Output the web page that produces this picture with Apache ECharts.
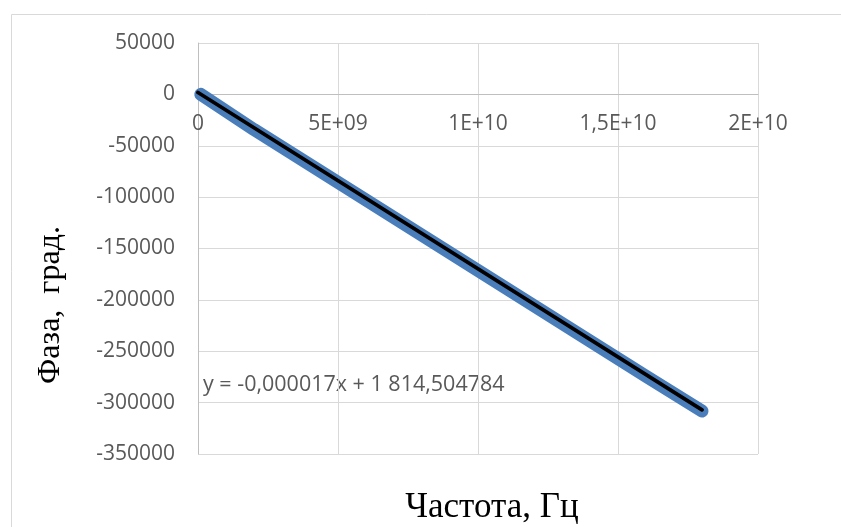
<!DOCTYPE html>
<html>
<head>
<meta charset="utf-8">
<script src="https://cdn.jsdelivr.net/npm/echarts@6/dist/echarts.min.js"></script>
<style>html,body{margin:0;padding:0;background:#fff}#c{width:841px;height:527px}</style>
</head>
<body>
<div id="c"></div>
<script>
// Data
const freq = [1e8, 2e9, 4e9, 6e9, 8e9, 1e10, 1.2e10, 1.4e10, 1.6e10, 1.8e10];
const phase = [0, -34300, -68600, -102900, -137200, -171500, -205800, -240100, -274400, -308200];
const trendX = [0, 1.8e10];
const trendY = [1814.5, -307000];
const xTickLabels = ['0', '5E+09', '1E+10', '1,5E+10', '2E+10'];
const trendText = 'y = -0,000017x + 1 814,504784';
const xTitle = 'Частота, Гц';
const yTitle = 'Фаза,  град.';

const chart = echarts.init(document.getElementById('c'));
const labelColor = '#595959';
const font = 'Open Sans';
chart.setOption({
  animation: false,
  grid: { left: 198, top: 43, width: 560, height: 411, containLabel: false },
  xAxis: {
    type: 'value', min: 0, max: 2e10, interval: 5e9,
    position: 'bottom', offset: -360,
    axisLine: { onZero: false, lineStyle: { color: '#bfbfbf', width: 1 } },
    axisTick: { show: false },
    axisLabel: {
      color: labelColor, fontFamily: font, fontSize: 21, margin: 20,
      formatter: v => xTickLabels[Math.round(v / 5e9)]
    },
    splitLine: { show: true, lineStyle: { color: '#d9d9d9', width: 1 } }
  },
  yAxis: {
    type: 'value', min: -350000, max: 50000, interval: 50000,
    axisLine: { show: true, onZero: false, lineStyle: { color: '#bfbfbf', width: 1 } },
    axisTick: { show: false },
    axisLabel: { color: labelColor, fontFamily: font, fontSize: 21, margin: 23, formatter: v => String(v) },
    splitLine: { show: true, lineStyle: { color: '#d9d9d9', width: 1 } }
  },
  series: [
    {
      type: 'line', data: freq.map((f, i) => [f, phase[i]]),
      showSymbol: false, symbol: 'none',
      lineStyle: { color: '#4a7ebb', width: 13, cap: 'round', join: 'round' },
      z: 2
    },
    {
      type: 'line', data: trendX.map((f, i) => [f, trendY[i]]),
      showSymbol: false, symbol: 'none',
      lineStyle: { color: '#000', width: 3.8, cap: 'round' },
      z: 3
    }
  ],
  graphic: [
    { type: 'rect', shape: { x: 11.5, y: 14.5, width: 1000, height: 1000 },
      style: { fill: 'none', stroke: '#d9d9d9', lineWidth: 1 }, silent: true },
    { type: 'text', x: 203, y: 385,
      style: { text: trendText, fill: labelColor, font: '21.5px "Open Sans"', textAlign: 'left', textVerticalAlign: 'middle' } },
    { type: 'text', x: 492, y: 508,
      style: { text: xTitle, fill: '#000', font: '35px "Liberation Serif"', textAlign: 'center', textVerticalAlign: 'middle' } },
    { type: 'text', x: 51, y: 305, rotation: Math.PI / 2,
      style: { text: yTitle, fill: '#000', font: '32px "Liberation Serif"', textAlign: 'center', textVerticalAlign: 'middle' } }
  ]
});
</script>
</body>
</html>
